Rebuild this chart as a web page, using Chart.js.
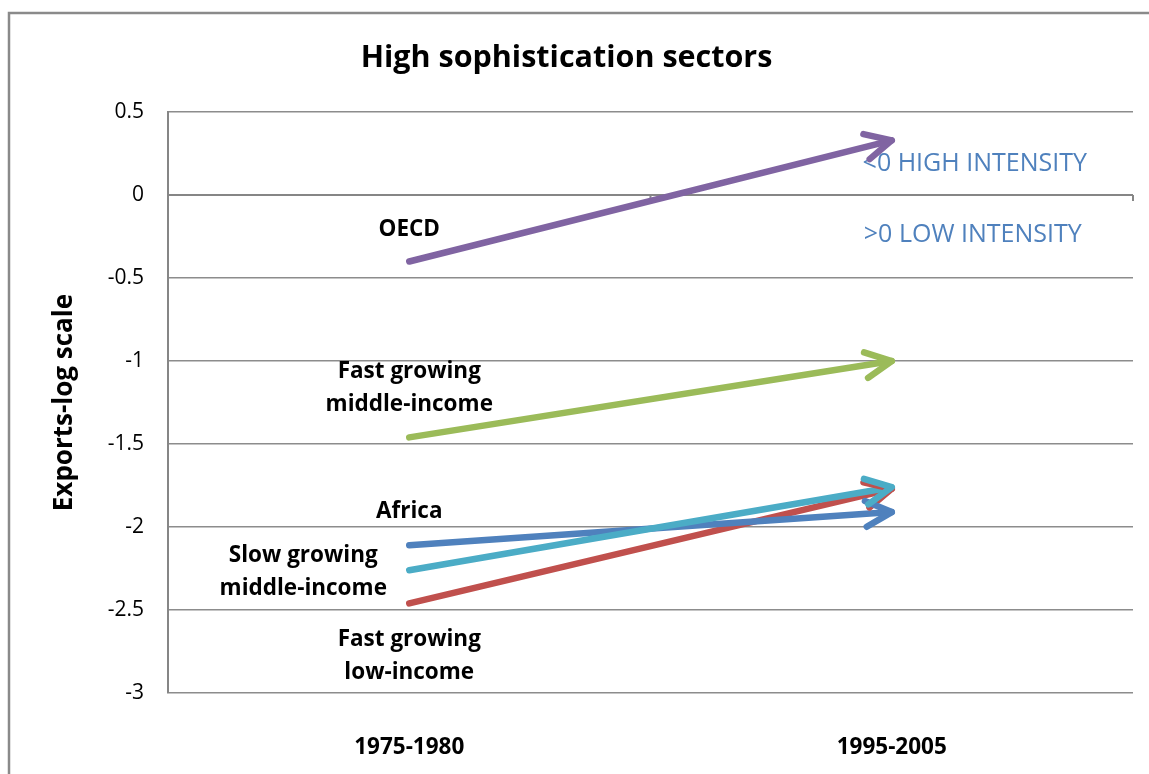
<!DOCTYPE html>
<html><head><meta charset="utf-8">
<script src="https://cdn.jsdelivr.net/npm/chart.js@4/dist/chart.umd.min.js"></script>
<style>html,body{margin:0;padding:0;background:#fff}#wrap{width:1149px;height:774px;position:relative}</style>
</head><body><div id="wrap"><canvas id="c" width="1149" height="774"></canvas></div>
<script>
// ---- data ----
const periods = ['1975-1980', '1995-2005'];
const slowMiddleIncome = [-2.26, -1.76];
const africa = [-2.11, -1.91];
const fastLowIncome = [-2.46, -1.77];
const fastMiddleIncome = [-1.46, -1.00];
const oecd = [-0.40, 0.33];
const yMin = -3, yMax = 0.5, yStep = 0.5;

// text annotations: category index, pixel shift, y value
const notes = [
  {lines: ['OECD'], cat: 0, dx: 0, y: -0.21, bold: true},
  {lines: ['Fast growing', 'middle-income'], cat: 0, dx: 0, y: -1.165, bold: true},
  {lines: ['Africa'], cat: 0, dx: 0, y: -1.91, bold: true},
  {lines: ['Slow growing', 'middle-income'], cat: 0, dx: -106, y: -2.27, bold: true},
  {lines: ['Fast growing', 'low-income'], cat: 0, dx: 0, y: -2.78, bold: true},
  {lines: ['<0 HIGH INTENSITY'], cat: 1, dx: 83, y: 0.19, bold: false, color: '#4F81BD'},
  {lines: ['>0 LOW INTENSITY'], cat: 1, dx: 81, y: -0.24, bold: false, color: '#4F81BD'}
];

const FONT = '"Open Sans", Lato, sans-serif';
const AXIS_GRAY = '#868686';

const frame = {
  id: 'frame',
  beforeDraw(chart) {
    const c = chart.ctx;
    c.save();
    c.strokeStyle = '#8a8a8a';
    c.lineWidth = 2.5;
    c.beginPath();
    c.moveTo(9, 774); c.lineTo(9, 13); c.lineTo(1149, 13);
    c.stroke();
    c.restore();
  }
};

const zeroAxis = {
  id: 'zeroAxis',
  beforeDatasetsDraw(chart) {
    const c = chart.ctx, xs = chart.scales.x, ys = chart.scales.y, a = chart.chartArea;
    const y0 = ys.getPixelForValue(0);
    const p0 = xs.getPixelForValue(0), p1 = xs.getPixelForValue(1);
    const half = (p1 - p0) / 2;
    c.save();
    c.strokeStyle = AXIS_GRAY;
    c.lineWidth = 2;
    c.beginPath();
    c.moveTo(a.left, y0); c.lineTo(a.right, y0);
    [p0 - half, p0 + half, p1 + half].forEach(x => { c.moveTo(x, y0); c.lineTo(x, y0 + 6); });
    c.stroke();
    c.restore();
  }
};

const labels = {
  id: 'labels',
  beforeDatasetsDraw(chart) {
    const c = chart.ctx, xs = chart.scales.x, ys = chart.scales.y;
    c.save();
    c.textAlign = 'center';
    c.textBaseline = 'middle';
    notes.forEach(n => {
      const x = xs.getPixelForValue(n.cat) + n.dx;
      const yc = ys.getPixelForValue(n.y);
      c.font = (n.bold ? 'bold 22.5px ' : '25px ') + FONT;
      c.fillStyle = n.color || '#000';
      const lh = 33;
      const start = yc - (n.lines.length - 1) * lh / 2;
      n.lines.forEach((t, k) => c.fillText(t, x, start + k * lh));
    });
    c.restore();
  }
};

const arrows = {
  id: 'arrows',
  afterDatasetsDraw(chart) {
    const c = chart.ctx;
    for (let i = chart.data.datasets.length - 1; i >= 0; i--) {
      const meta = chart.getDatasetMeta(i);
      const pts = meta.data;
      const a = pts[pts.length - 2], b = pts[pts.length - 1];
      const ang = Math.atan2(b.y - a.y, b.x - a.x);
      const L = 29, w = 0.46;
      c.save();
      c.strokeStyle = chart.data.datasets[i].borderColor;
      c.lineWidth = 6.5;
      c.lineCap = 'round';
      c.lineJoin = 'round';
      c.beginPath();
      c.moveTo(b.x - L * Math.cos(ang - w), b.y - L * Math.sin(ang - w));
      c.lineTo(b.x, b.y);
      c.lineTo(b.x - L * Math.cos(ang + w), b.y - L * Math.sin(ang + w));
      c.stroke();
      c.restore();
    }
  }
};

const mk = (label, data, color) => ({
  label, data, borderColor: color, backgroundColor: color,
  borderWidth: 6.5, pointRadius: 0, tension: 0, fill: false, borderCapStyle: 'round'
});

new Chart(document.getElementById('c'), {
  type: 'line',
  data: {
    labels: periods,
    datasets: [
      mk('Slow growing middle-income', slowMiddleIncome, '#4BACC6'),
      mk('Africa', africa, '#4F81BD'),
      mk('Fast growing low-income', fastLowIncome, '#C0504D'),
      mk('Fast growing middle-income', fastMiddleIncome, '#9BBB59'),
      mk('OECD', oecd, '#8064A2')
    ]
  },
  options: {
    responsive: false,
    animation: false,
    devicePixelRatio: 1,
    layout: {padding: {left: 0, right: 16, top: 0, bottom: 0}},
    plugins: {
      legend: {display: false},
      tooltip: {enabled: false},
      title: {
        display: true,
        text: 'High sophistication sectors',
        color: '#000',
        font: {family: FONT, size: 30.5, weight: 'bold'},
        padding: {top: 40.5, bottom: 35}
      }
    },
    scales: {
      x: {
        type: 'category',
        offset: true,
        grid: {display: false},
        border: {display: false},
        ticks: {color: '#000', font: {family: FONT, size: 22.5, weight: 'bold'}, padding: 33, maxRotation: 0},
        afterFit(s) { s.height = 81; }
      },
      y: {
        min: yMin, max: yMax,
        ticks: {
          stepSize: yStep, color: '#000', font: {family: FONT, size: 21}, padding: 24,
          callback: v => String(Math.round(v * 10) / 10)
        },
        grid: {color: '#8c8c8c', lineWidth: 1.5, drawTicks: false},
        border: {display: true, color: AXIS_GRAY, width: 2},
        title: {
          display: true, text: 'Exports-log scale', color: '#000',
          font: {family: FONT, size: 26, weight: 'bold'},
          padding: {top: 49.4, bottom: 0}
        },
        afterFit(s) { s.width = 168; }
      }
    }
  },
  plugins: [frame, zeroAxis, labels, arrows]
});
</script>
</body></html>
